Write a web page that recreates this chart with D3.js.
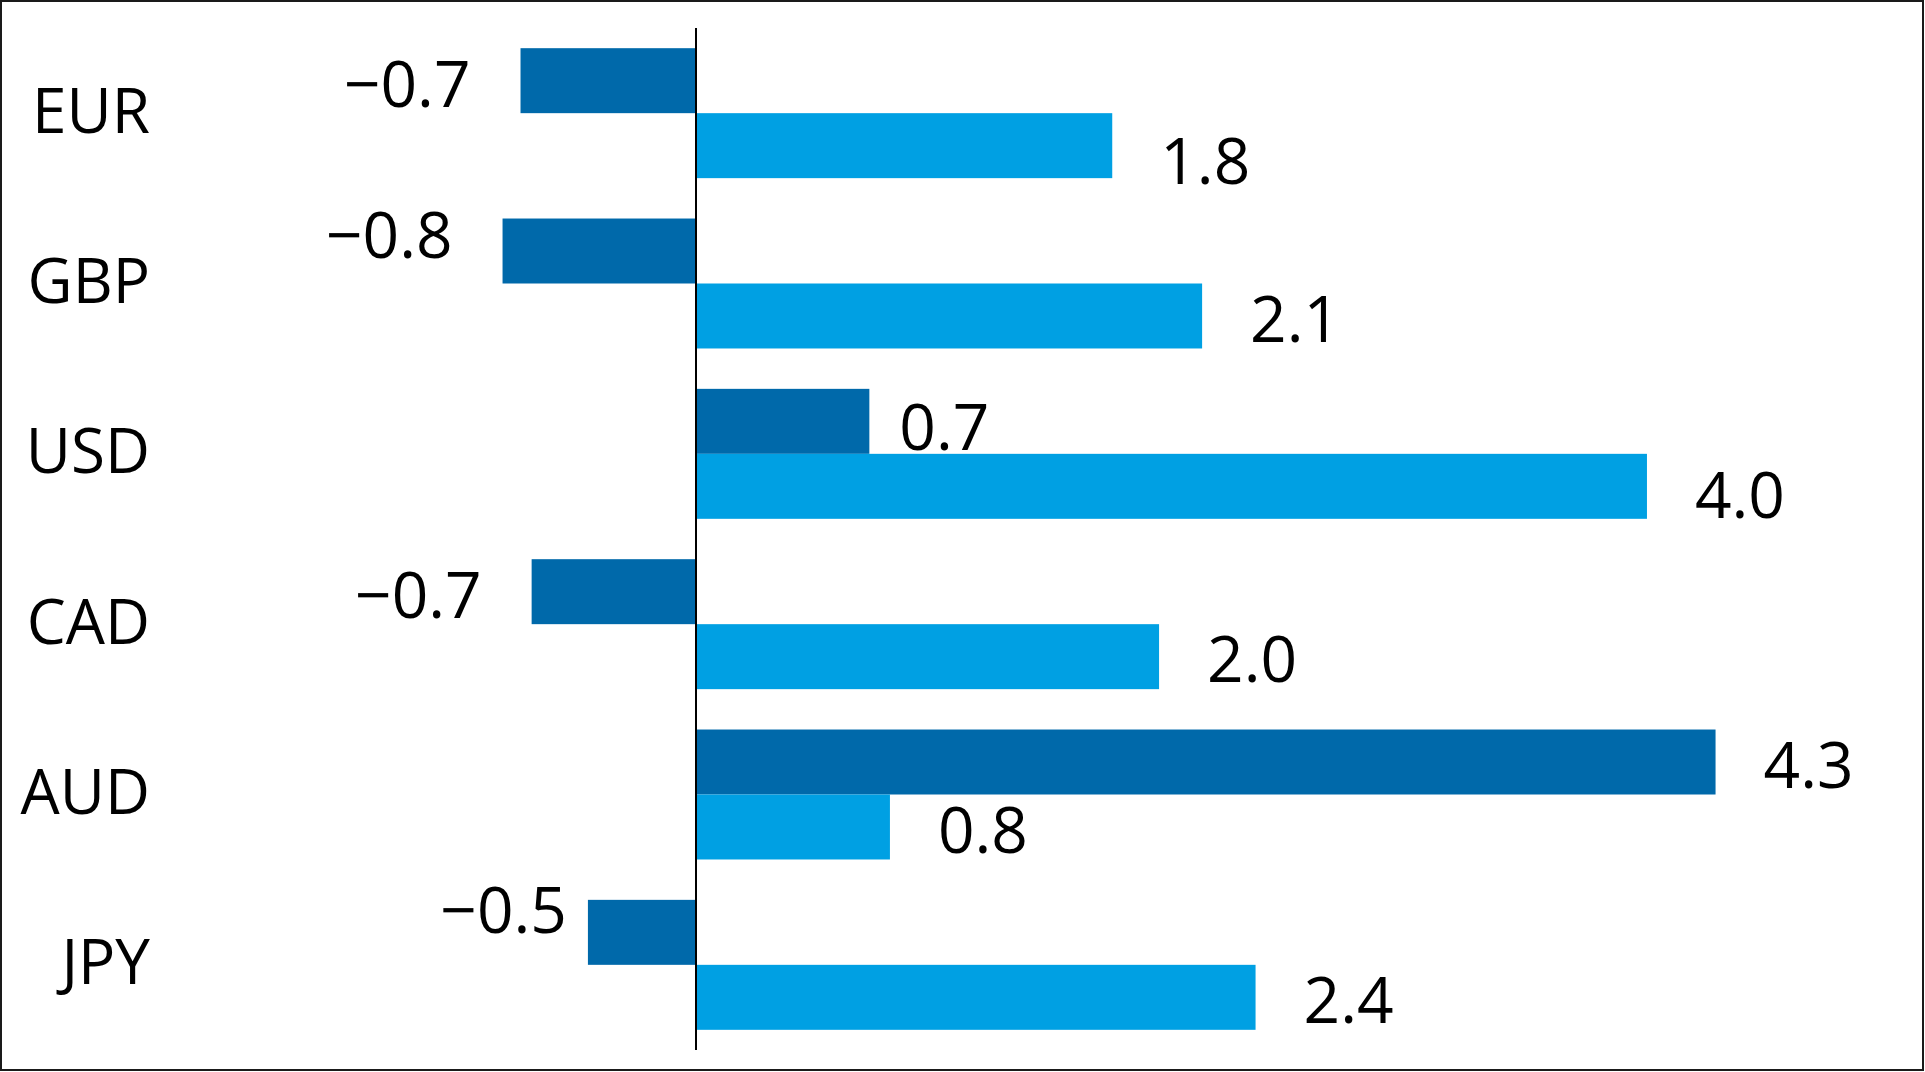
<!DOCTYPE html>
<html>
<head>
<meta charset="utf-8">
<script src="https://cdn.jsdelivr.net/npm/d3@7"></script>
<style>
  body { margin: 0; background: #fff; }
  svg { display: block; }
</style>
</head>
<body>
<div id="chart-area"></div>
<script>
// data
const categories = ["EUR", "GBP", "USD", "CAD", "AUD", "JPY"]
const seriesKeys = ["first", "second"]
const firstValues = [-0.742, -0.818, 0.733, -0.695, 4.311, -0.457]
const secondValues = [1.760, 2.140, 4.021, 1.958, 0.820, 2.366]
const xDomain = [-2.5, 5]

const WIDTH = 1925
const HEIGHT = 1072
const COLORS = { first: "#0069AA", second: "#00A0E3" }

// hand placed label tweaks (dx, dy) so the numbers don't crowd
const labelNudge = {
  "EUR-second": [0, 13],
  "GBP-first": [0, -19],
  "USD-first": [-18, 3],
  "USD-second": [0, 6],
  "JPY-first": [29, -25]
}

const data = categories.map((c, i) => ({
  cat: c,
  first: firstValues[i],
  second: secondValues[i]
}))

const svg = d3.select("#chart-area").append("svg")
  .attr("width", WIDTH)
  .attr("height", HEIGHT)

// frame
svg.append("rect")
  .attr("x", 1)
  .attr("y", 1)
  .attr("width", WIDTH - 3)
  .attr("height", HEIGHT - 3)
  .attr("fill", "#fff")
  .attr("stroke", "#1a1a1a")
  .attr("stroke-width", 2)

const y = d3.scaleBand()
  .domain(categories)
  .range([28, 1050])
  .paddingInner(0.237)
  .paddingOuter(0.1185)

const ySub = d3.scaleBand()
  .domain(seriesKeys)
  .range([0, y.bandwidth()])

const x = d3.scaleLinear()
  .domain(xDomain)
  .range([104.75, 1878.5])

const fmt = d3.format(".1f")

const groups = svg.selectAll("g.group")
  .data(data)
  .enter().append("g")
  .attr("class", "group")
  .attr("transform", d => `translate(0, ${y(d.cat)})`)

const bars = groups.selectAll("rect")
  .data(d => seriesKeys.map(k => ({ cat: d.cat, key: k, value: d[k] })))
  .enter()

bars.append("rect")
  .attr("x", d => x(Math.min(0, d.value)))
  .attr("y", d => ySub(d.key))
  .attr("width", d => Math.abs(x(d.value) - x(0)))
  .attr("height", ySub.bandwidth())
  .attr("fill", d => COLORS[d.key])

bars.append("text")
  .attr("x", d => {
    const n = labelNudge[d.cat + "-" + d.key] || [0, 0]
    return x(d.value) + (d.value < 0 ? -50 : 48) + n[0]
  })
  .attr("y", d => {
    const n = labelNudge[d.cat + "-" + d.key] || [0, 0]
    return ySub(d.key) + ySub.bandwidth() / 2 + 3 + n[1]
  })
  .attr("dy", "0.357em")
  .attr("text-anchor", d => d.value < 0 ? "end" : "start")
  .attr("font-family", "Open Sans, sans-serif")
  .attr("font-size", "64px")
  .attr("fill", "#000")
  .text(d => fmt(d.value))

// category labels
svg.append("g")
  .selectAll("text")
  .data(categories)
  .enter().append("text")
  .attr("x", 150)
  .attr("y", d => y(d) + y.bandwidth() / 2 - 2.5)
  .attr("dy", "0.357em")
  .attr("text-anchor", "end")
  .attr("font-family", "Open Sans, sans-serif")
  .attr("font-size", "62px")
  .attr("fill", "#000")
  .text(d => d)

// zero line
svg.append("line")
  .attr("x1", x(0))
  .attr("x2", x(0))
  .attr("y1", y.range()[0])
  .attr("y2", y.range()[1])
  .attr("stroke", "#000")
  .attr("stroke-width", 2)
</script>
</body>
</html>
